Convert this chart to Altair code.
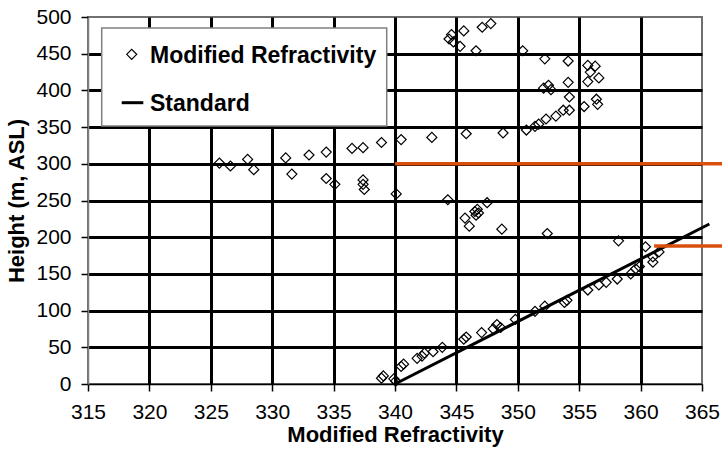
import altair as alt
import pandas as pd

# Modified refractivity observations (M-units) and heights (m ASL)
mod_x = [338.9, 339.05, 339.9, 340.05, 340.5, 340.7, 341.8, 342.2, 342.4, 343.1, 343.85,
         345.6, 345.8, 347.05, 348.0, 348.3, 348.6, 349.8, 351.4, 352.2, 353.8, 354.0,
         355.7, 356.6, 357.2, 358.1, 359.2, 359.6, 359.9, 361.0, 361.0, 361.5, 360.4, 358.2,
         352.4, 348.7, 346.05, 345.7, 346.6, 346.8, 346.5, 346.7, 347.5, 344.3, 340.1,
         325.7, 326.6, 328.0, 328.5, 331.1, 331.6, 333.0, 334.4, 334.4, 335.1, 336.5,
         337.4, 337.4, 337.4, 337.5, 338.9, 340.5, 343.0, 345.8, 348.8, 350.7, 351.4,
         351.7, 352.3, 353.1, 353.7, 354.2, 355.4, 356.4, 356.5, 354.2,
         352.1, 352.5, 352.7, 354.1, 355.7, 356.6, 355.9, 355.7, 356.3, 354.1, 352.2,
         350.4, 346.6, 345.3, 344.75, 344.4, 344.6, 345.6, 347.1, 347.8]
mod_y = [8, 11, 7, 4, 24, 27, 35, 38, 42, 44, 50,
         61, 64, 70, 75, 81, 77, 88, 99, 106, 111, 114,
         128, 135, 138.5, 143, 150, 157, 160, 166, 173, 180, 187, 195,
         205, 211, 215, 226, 230, 233, 235, 238, 247, 251, 259,
         301, 297, 306, 292, 308, 286, 312, 316, 280, 272, 321,
         322, 278, 272, 265, 329, 333, 336, 341, 342, 346, 351,
         354, 361, 365, 373, 373, 378, 388, 381, 391,
         403, 407, 401, 411, 412, 417, 425, 434, 433, 440, 443,
         454, 454, 460, 466, 470, 476, 481, 486, 491]

# Standard atmosphere line
std_x = [340, 365.6]
std_y = [0, 218]

# Orange reference lines
ref_y = [300, 188]
ref_x0 = [340, 361.1]
ref_x1 = [367, 367]

x_ticks = list(range(315, 366, 5))
y_ticks = list(range(0, 501, 50))

series_labels = ["Modified Refractivity", "Standard"]

FONT = "Liberation Sans"
ORANGE = "#D9500C"

pts = pd.DataFrame({"x": mod_x, "y": mod_y})
std = pd.DataFrame({"x": std_x, "y": std_y})
refs = pd.DataFrame({"y": ref_y, "x0": ref_x0, "x1": ref_x1})
one = pd.DataFrame({"label": [series_labels[0]]})
two = pd.DataFrame({"label": [series_labels[1]]})

xscale = alt.Scale(domain=[315, 365], nice=False, zero=False)
yscale = alt.Scale(domain=[0, 500], nice=False, zero=True)

x_grid_op = {"condition": {"test": "datum.value <= 315 || datum.value >= 365", "value": 0}, "value": 1}
y_grid_op = {"condition": {"test": "datum.value <= 0 || datum.value >= 500", "value": 0}, "value": 1}

x_axis = alt.Axis(values=x_ticks, grid=True, gridColor="black", gridWidth=3, gridOpacity=x_grid_op,
                  domainColor="black", domainWidth=1.5, tickColor="black", tickWidth=1.5, tickSize=7,
                  labelFont=FONT, labelFontSize=21, labelColor="black", labelPadding=10, labelFlush=False,
                  labelOverlap=False,
                  title="Modified Refractivity", titleFont=FONT, titleFontSize=22, titleFontWeight="bold",
                  titleColor="black", titlePadding=2)
y_axis = alt.Axis(values=y_ticks, grid=True, gridColor="black", gridWidth=3, gridOpacity=y_grid_op,
                  domainColor="#808080", domainWidth=1.5, tickColor="black", tickWidth=1.5, tickSize=7,
                  labelFont=FONT, labelFontSize=21, labelColor="black", labelPadding=10, labelFlush=False,
                  labelOverlap=False, tickCount=11,
                  title="Height (m, ASL)", titleFont=FONT, titleFontSize=22, titleFontWeight="bold",
                  titleColor="black", titlePadding=7)

points = alt.Chart(pts).mark_point(shape="diamond", filled=False, color="black", size=100,
                                   strokeWidth=1.2, opacity=1).encode(
    x=alt.X("x:Q", scale=xscale, axis=x_axis),
    y=alt.Y("y:Q", scale=yscale, axis=y_axis),
)

std_line = alt.Chart(std).mark_line(color="black", strokeWidth=3, clip=False).encode(
    x=alt.X("x:Q", scale=xscale),
    y=alt.Y("y:Q", scale=yscale),
)

ref_lines = alt.Chart(refs).mark_rule(color=ORANGE, strokeWidth=3.5, clip=False).encode(
    x=alt.X("x0:Q", scale=xscale),
    x2="x1:Q",
    y=alt.Y("y:Q", scale=yscale),
)

# Legend box (drawn manually to match the spreadsheet style)
leg_box = alt.Chart(one).mark_rect(fill="white", stroke="#808080", strokeWidth=1.5).encode(
    x=alt.value(13.7), x2=alt.value(298.7), y=alt.value(11), y2=alt.value(109))
leg_sym = alt.Chart(one).mark_point(shape="diamond", filled=False, color="black", size=100,
                                    strokeWidth=1.2, opacity=1).encode(
    x=alt.value(43.7), y=alt.value(37.3))
leg_txt1 = alt.Chart(one).mark_text(align="left", baseline="alphabetic", font=FONT, fontSize=23,
                                    fontWeight="bold", color="black").encode(
    x=alt.value(62), y=alt.value(45.7), text="label:N")
leg_line = alt.Chart(two).mark_rule(color="black", strokeWidth=3).encode(
    x=alt.value(33.7), x2=alt.value(55.3), y=alt.value(85.7))
leg_txt2 = alt.Chart(two).mark_text(align="left", baseline="alphabetic", font=FONT, fontSize=23,
                                    fontWeight="bold", color="black").encode(
    x=alt.value(62), y=alt.value(94), text="label:N")

chart = alt.layer(points, std_line, ref_lines, leg_box, leg_sym, leg_txt1, leg_line, leg_txt2).properties(
    width=614, height=367,
    autosize=alt.AutoSizeParams(type="none"),
    padding={"left": 88, "top": 17, "right": 20, "bottom": 71},
    background="white",
).configure_view(stroke="#707070", strokeWidth=2)

chart.save("out.html", embed_options={"renderer": "svg", "actions": False})
